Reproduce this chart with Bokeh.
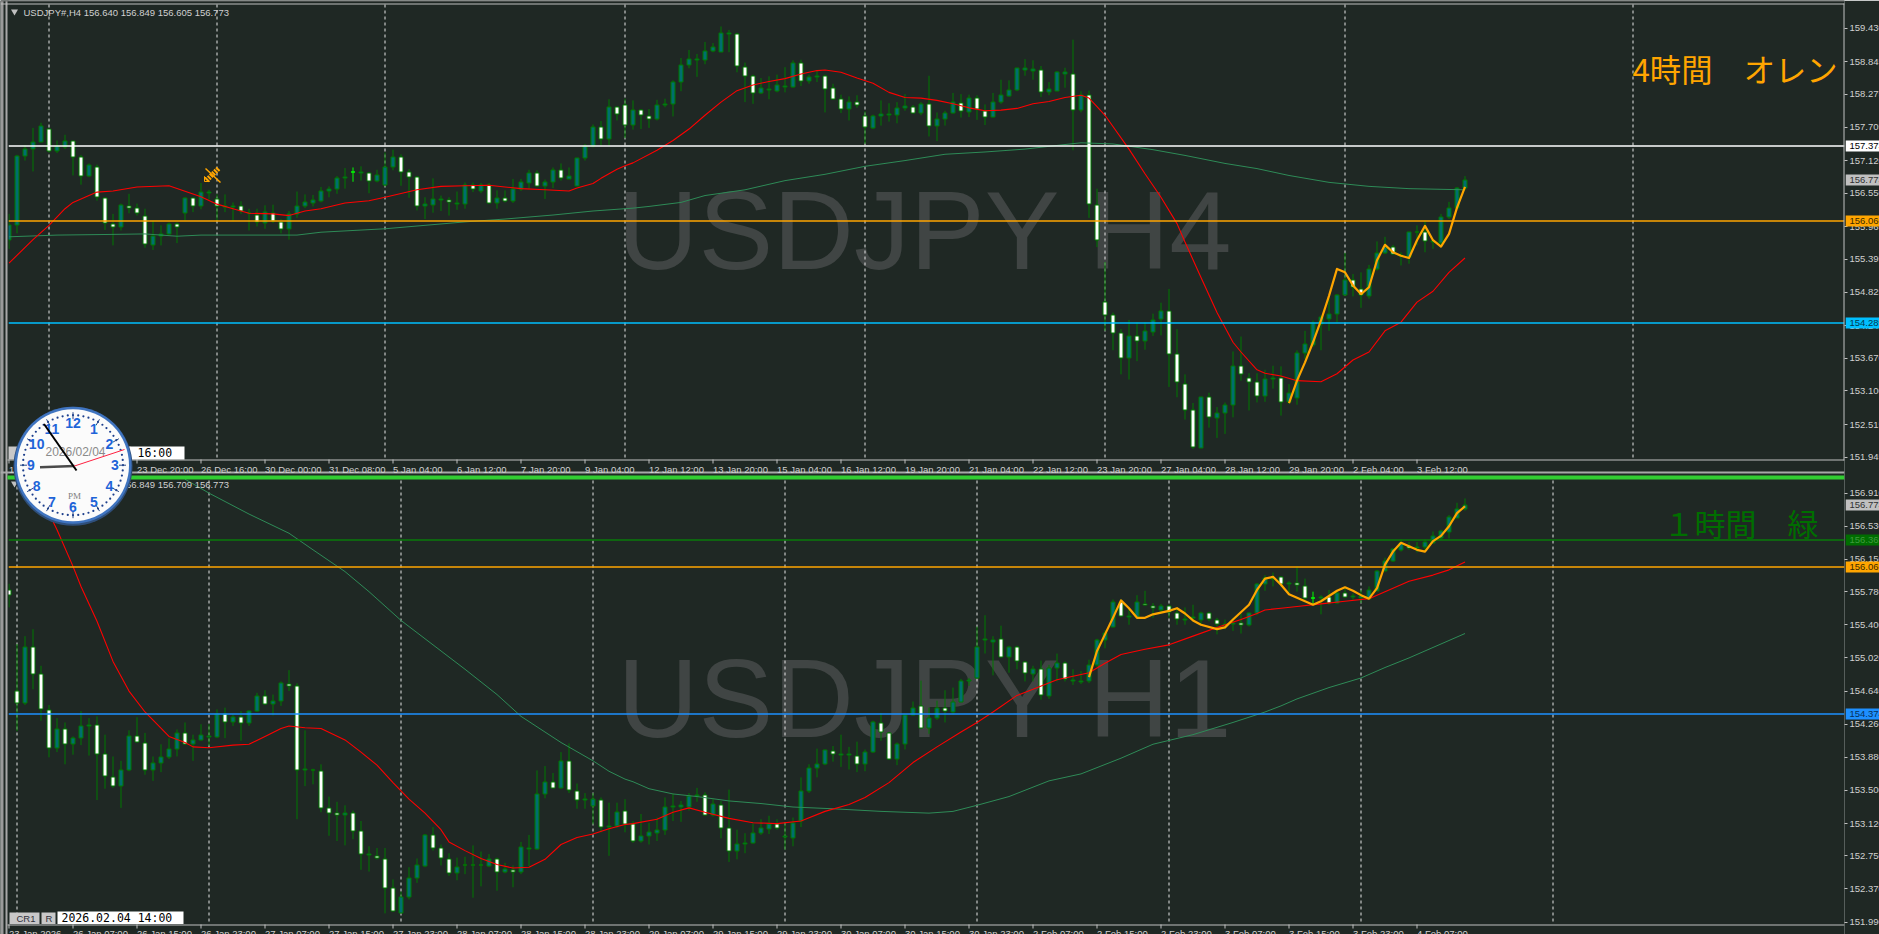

from bokeh.plotting import figure
from bokeh.models import Range1d, FixedTicker
from bokeh.embed import file_html
from bokeh.resources import INLINE
from bokeh.core.properties import value
import math

# ---------- H4 panel data ----------
top_open = [155.74,155.99,157.20,157.32,157.44,157.67,157.28,157.36,157.46,157.18,
156.85,157.00,156.46,156.01,155.96,156.33,156.29,156.15,155.65,155.81,
155.84,156.01,156.20,156.46,156.33,156.56,156.45,156.31,156.31,156.33,
156.21,156.17,156.03,156.21,156.04,155.92,156.19,156.32,156.38,156.42,
156.59,156.62,156.82,156.92,156.90,156.90,156.76,156.69,157.00,157.18,
156.92,156.83,156.33,156.34,156.44,156.43,156.37,156.36,156.69,156.59,
156.70,156.38,156.46,156.41,156.62,156.73,156.90,156.67,156.74,156.95,
156.80,156.68,157.16,157.37,157.70,157.49,158.05,158.09,157.74,158.00,
157.89,157.84,158.09,158.11,158.49,158.78,158.88,158.88,159.03,159.01,
159.33,159.33,158.75,158.59,158.30,158.35,158.34,158.40,158.40,158.82,
158.50,158.58,158.59,158.38,158.19,158.02,158.14,157.89,157.69,157.90,
157.92,157.91,158.04,158.06,157.95,158.10,157.73,157.84,157.95,158.12,
157.96,158.21,157.98,157.88,158.14,158.24,158.35,158.70,158.69,158.70,
158.31,158.34,158.63,158.63,158.00,158.26,156.35,154.65,154.42,154.11,
153.67,154.06,153.97,154.13,154.35,154.49,153.74,153.23,152.76,152.11,
152.99,152.62,152.71,152.85,153.53,153.32,153.25,153.01,153.31,153.32,
152.90,152.98,153.76,153.91,154.27,154.35,154.44,154.78,155.04,154.88,
154.76,155.22,155.51,155.62,155.45,155.43,155.87,155.88,155.70,155.68,
156.13,156.29,156.64]
top_high = [156.19,157.22,157.39,157.69,157.78,157.67,157.47,157.57,157.46,157.22,
157.07,157.05,156.48,156.19,156.37,156.54,156.37,156.28,156.07,155.99,
156.04,156.04,156.48,156.48,156.73,156.61,156.53,156.53,156.39,156.41,
156.28,156.28,156.34,156.35,156.10,156.24,156.58,156.53,156.52,156.66,
156.67,156.85,156.99,157.00,157.02,156.92,156.96,157.26,157.31,157.23,
156.97,156.85,156.48,156.81,156.51,156.48,156.58,156.74,156.74,156.73,
156.73,156.60,156.60,156.80,156.80,156.96,156.95,156.79,157.00,157.07,
157.00,157.17,157.41,157.75,157.81,158.19,158.06,158.20,158.17,158.02,
158.02,158.18,158.20,158.52,158.91,159.05,158.98,159.19,159.17,159.46,
159.40,159.35,158.83,158.62,158.56,158.59,158.62,158.75,158.87,158.88,
158.62,158.70,158.62,158.46,158.27,158.24,158.26,157.98,157.92,158.17,
158.12,158.14,158.28,158.09,158.14,158.60,157.96,157.99,158.30,158.28,
158.27,158.26,158.10,158.30,158.53,158.52,158.74,158.89,158.87,158.77,
158.49,158.68,158.74,159.23,158.33,158.34,156.63,155.35,154.47,154.18,
154.34,154.30,154.30,154.45,154.64,154.88,154.18,153.39,152.89,153.00,
153.07,152.82,152.90,153.79,154.05,153.41,153.41,153.47,153.54,153.53,
153.22,153.81,154.15,154.33,154.42,154.71,154.79,155.51,155.14,155.17,
155.30,155.71,155.79,155.65,155.52,155.88,155.99,156.07,155.75,156.19,
156.40,156.66,156.849]
top_low = [155.58,155.85,157.12,156.93,157.44,157.26,157.25,157.32,156.86,156.70,
156.83,156.42,155.91,155.64,155.90,156.20,156.16,155.60,155.56,155.64,
155.81,155.68,156.07,156.22,156.27,156.44,156.06,156.22,156.06,156.19,
155.90,155.97,155.93,156.03,155.85,155.74,156.12,156.29,156.32,156.39,
156.48,156.54,156.63,156.75,156.77,156.55,156.74,156.67,156.95,156.68,
156.47,156.25,156.10,156.21,156.24,156.16,156.26,156.28,156.57,156.55,
156.36,156.28,156.39,156.38,156.59,156.63,156.66,156.45,156.64,156.77,
156.80,156.67,157.12,157.35,157.38,157.38,157.82,157.51,157.66,157.67,
157.69,157.82,158.05,157.89,158.33,158.73,158.58,158.80,159.01,159.01,
159.01,158.66,158.14,158.11,158.28,158.19,158.31,158.31,158.39,158.42,
158.46,158.49,157.96,158.18,157.95,157.82,158.04,157.41,157.67,157.73,
157.80,157.77,157.99,157.94,157.91,157.54,157.46,157.73,157.94,157.87,
157.88,157.83,157.74,157.87,158.11,158.23,158.33,158.60,158.53,158.23,
158.26,158.33,158.39,157.30,157.96,156.12,155.61,154.15,153.81,153.39,
153.30,153.62,153.82,154.06,154.07,153.17,152.99,152.60,152.09,152.11,
152.46,152.28,152.35,152.64,153.28,152.76,152.90,152.91,153.14,152.67,
152.87,152.86,153.66,153.87,153.81,154.15,154.30,154.76,154.75,154.55,
154.71,155.20,155.49,155.48,155.29,155.32,155.64,155.52,155.58,155.64,
156.10,156.28,156.605]
top_close = [156.00,157.20,157.32,157.45,157.73,157.29,157.37,157.46,157.19,156.85,
157.05,156.48,156.03,155.96,156.35,156.30,156.21,155.66,155.81,155.84,
156.01,155.96,156.47,156.33,156.58,156.58,156.32,156.33,156.33,156.24,
156.20,156.04,156.22,156.06,155.93,156.19,156.33,156.39,156.43,156.59,
156.63,156.82,156.84,156.92,156.92,156.77,156.87,157.01,157.19,156.92,
156.84,156.33,156.36,156.45,156.45,156.39,156.38,156.69,156.63,156.70,
156.38,156.47,156.42,156.63,156.75,156.90,156.68,156.75,156.96,156.82,
156.85,157.16,157.37,157.71,157.50,158.06,157.94,157.74,158.01,157.91,
157.85,158.09,158.11,158.49,158.79,158.89,158.89,159.03,159.10,159.35,
159.35,158.77,158.60,158.30,158.39,158.37,158.44,158.42,158.82,158.51,
158.58,158.60,158.37,158.20,158.02,158.14,158.09,157.70,157.89,157.94,
157.94,158.04,158.07,157.95,158.11,157.73,157.85,157.95,158.14,157.98,
158.21,158.02,157.88,158.14,158.27,158.35,158.73,158.73,158.71,158.32,
158.37,158.66,158.66,158.01,158.26,156.37,155.74,154.43,154.12,153.68,
154.06,153.97,154.15,154.34,154.50,153.75,153.26,152.77,152.13,152.99,
152.64,152.72,152.86,153.53,153.40,153.26,153.02,153.31,153.32,152.91,
153.06,153.76,153.92,154.28,154.39,154.45,154.78,155.04,154.91,154.78,
155.23,155.51,155.62,155.49,155.48,155.88,155.88,155.72,155.72,156.14,
156.30,156.64,156.773]
top_doji = [43]

top_red_bars = [0,3,5,7,8,11,13,16,20,24,26,28,30,33,35,37,39,42,45,47,51,54,57,60,62,64,67,70,71,73,74,76,77,78,81,83,85,87,89,91,93,95,97,99,101,102,104,106,108,110,112,114,116,118,120,122,124,126,128,130,132,134,135,136,137,140,142,144,146,147,149,151,153,154,156,157,159,161,164,166,168,170,172,174,176,178,180,182]
top_red_vals = [155.33,155.74,155.99,156.28,156.39,156.57,156.59,156.66,156.68,156.49,156.36,156.28,156.20,156.19,156.16,156.24,156.28,156.38,156.42,156.48,156.61,156.67,156.68,156.69,156.66,156.63,156.61,156.59,156.64,156.72,156.81,156.97,157.03,157.08,157.30,157.47,157.67,157.91,158.14,158.34,158.44,158.50,158.55,158.63,158.69,158.70,158.66,158.56,158.47,158.31,158.22,158.21,158.17,158.11,158.04,157.99,158.00,158.03,158.11,158.15,158.22,158.26,158.21,158.06,157.91,157.32,156.89,156.48,156.02,155.70,155.08,154.47,153.95,153.78,153.47,153.41,153.36,153.28,153.26,153.40,153.64,153.78,154.15,154.30,154.65,154.84,155.17,155.42]
top_green_bars = [0,6,12,17,21,24,36,39,47,52,57,62,68,73,78,80,84,87,92,97,102,107,112,117,122,127,132,134,138,143,147,152,156,160,165,170,175,182]
top_green_vals = [155.79,155.82,155.83,155.84,155.80,155.82,155.82,155.87,155.93,155.99,156.05,156.10,156.17,156.24,156.29,156.32,156.39,156.51,156.61,156.77,156.88,157.02,157.12,157.23,157.27,157.32,157.40,157.43,157.41,157.31,157.21,157.07,156.98,156.86,156.74,156.67,156.63,156.61]
top_orange_bars = [160,161,162,163,164,165,166,167,168,169,170,171,172,173,174,175,176,177,178,179,180,181,182]
top_orange_vals = [152.89,153.28,153.60,153.95,154.33,154.76,155.23,155.17,154.94,154.79,154.91,155.38,155.65,155.52,155.46,155.42,155.73,155.98,155.73,155.62,155.84,156.30,156.66]

top_ticks = [159.430,158.845,158.275,157.705,157.120,156.550,155.965,155.395,154.825,154.240,153.670,153.100,152.515,151.945]
top_x_bars = list(range(0,177,8))
top_x_labels = ["19 Dec 2025","22 Dec 12:00","23 Dec 20:00","26 Dec 16:00","30 Dec 00:00","31 Dec 08:00","5 Jan 04:00","6 Jan 12:00","7 Jan 20:00","9 Jan 04:00","12 Jan 12:00","13 Jan 20:00","15 Jan 04:00","16 Jan 12:00","19 Jan 20:00","21 Jan 04:00","22 Jan 12:00","23 Jan 20:00","27 Jan 04:00","28 Jan 12:00","29 Jan 20:00","2 Feb 04:00","3 Feb 12:00"]
top_seps = [5,26,47,77,107,137,167,203]
top_levels = [157.373,156.060,154.289]
top_level_colors = ["#ffffff","#ffa500","#00bfff"]

# ---------- H1 panel data ----------
bot_open = [155.80,154.64,154.50,155.15,154.83,154.42,153.99,154.20,154.03,154.10,
154.24,154.25,153.92,153.66,153.55,153.73,154.12,154.05,153.73,153.82,
153.88,153.97,154.16,154.03,154.08,154.11,154.11,154.38,154.28,154.34,
154.27,154.41,154.58,154.49,154.53,154.72,154.70,153.74,153.73,153.72,
153.30,153.24,153.22,153.24,153.03,152.76,152.75,152.71,152.38,152.10,
152.28,152.50,152.63,152.99,152.84,152.71,152.55,152.64,152.64,152.64,
152.63,152.71,152.56,152.59,152.57,152.83,152.83,153.46,153.60,153.53,
153.84,153.49,153.39,153.32,153.39,153.08,153.09,153.26,153.12,152.92,
152.98,153.01,153.05,153.31,153.31,153.31,153.44,153.45,153.22,153.33,
153.07,152.80,152.89,152.90,153.01,153.06,153.11,152.97,152.95,153.15,
153.49,153.76,153.80,153.95,153.91,153.91,153.90,153.80,153.94,154.27,
154.16,153.86,154.03,154.37,154.47,154.22,154.33,154.44,154.40,154.52,
154.75,154.79,155.23,155.20,155.24,155.03,155.14,154.97,154.83,154.89,
154.58,154.91,154.96,154.75,154.74,154.75,154.94,155.23,155.38,155.66,
155.49,155.49,155.64,155.61,155.57,155.61,155.53,155.46,155.48,155.46,
155.53,155.46,155.40,155.41,155.42,155.40,155.53,155.87,155.93,155.95,
155.87,155.88,155.85,155.71,155.71,155.72,155.65,155.76,155.72,155.71,
155.70,155.79,156.02,156.13,156.26,156.30,156.28,156.29,156.34,156.39,
156.46,156.63,156.73]
bot_high = [155.87,155.18,155.27,155.35,154.93,154.48,154.33,154.28,154.12,154.41,
154.33,154.35,154.14,153.89,153.84,154.19,154.34,154.16,153.89,154.03,
154.10,154.20,154.28,154.14,154.26,154.26,154.43,154.45,154.37,154.41,
154.42,154.62,154.65,154.60,154.75,154.88,154.73,154.19,153.75,153.80,
153.43,153.37,153.33,153.27,153.15,152.86,152.84,152.84,152.48,152.34,
152.62,152.72,153.00,153.08,152.88,152.78,152.73,152.74,152.87,152.80,
152.77,152.73,152.67,152.64,152.91,152.99,153.73,153.78,153.70,153.94,
154.04,153.58,153.47,153.47,153.42,153.36,153.36,153.40,153.15,153.23,
153.13,153.19,153.42,153.46,153.38,153.47,153.53,153.48,153.40,153.38,
153.51,153.05,153.01,153.12,153.17,153.21,153.17,153.13,153.19,153.65,
153.80,153.98,153.97,154.01,154.14,154.00,154.06,153.97,154.30,154.39,
154.17,154.05,154.37,154.52,154.76,154.45,154.53,154.65,154.68,154.78,
154.79,155.38,155.51,155.27,155.39,155.16,155.16,154.98,154.93,154.99,
154.94,155.07,154.98,154.89,154.87,155.00,155.24,155.34,155.69,155.69,
155.59,155.74,155.79,155.65,155.64,155.63,155.59,155.60,155.63,155.55,
155.55,155.48,155.46,155.48,155.53,155.54,155.88,155.97,156.00,155.96,
155.90,156.07,155.93,155.78,155.74,155.80,155.80,155.82,155.76,155.80,
155.84,156.03,156.17,156.28,156.38,156.35,156.35,156.38,156.47,156.49,
156.66,156.80,156.849]
bot_low = [155.60,154.18,154.48,154.66,154.30,153.88,153.94,153.80,153.91,154.02,
153.90,153.39,153.52,153.53,153.30,153.72,154.05,153.68,153.61,153.71,
153.86,153.89,154.02,153.84,154.07,154.01,154.10,154.10,154.24,154.07,
154.24,154.40,154.48,154.36,154.47,154.64,153.17,153.55,153.57,153.25,
152.98,152.92,152.87,152.94,152.59,152.57,152.71,152.09,152.11,152.09,
152.25,152.44,152.62,152.81,152.64,152.52,152.47,152.54,152.27,152.40,
152.62,152.35,152.55,152.39,152.54,152.63,152.82,153.41,153.53,153.52,
153.47,153.29,153.29,153.11,153.02,152.75,153.07,153.02,152.90,152.90,
152.88,152.92,152.99,153.15,153.14,153.27,153.37,153.21,153.20,152.95,
152.68,152.71,152.78,152.89,152.99,153.00,153.05,152.82,152.86,153.08,
153.47,153.65,153.79,153.83,153.77,153.74,153.71,153.72,153.93,154.07,
153.85,153.79,153.97,154.36,154.21,154.15,154.31,154.28,154.37,154.52,
154.70,154.78,155.07,154.82,155.02,154.85,154.89,154.75,154.75,154.54,
154.55,154.75,154.75,154.71,154.72,154.73,154.91,155.13,155.37,155.49,
155.40,155.48,155.62,155.48,155.55,155.48,155.40,155.40,155.44,155.40,
155.44,155.29,155.35,155.33,155.30,155.38,155.51,155.79,155.84,155.84,
155.77,155.78,155.69,155.63,155.52,155.63,155.64,155.71,155.69,155.65,
155.69,155.79,156.01,156.12,156.24,156.26,156.23,156.24,156.33,156.37,
156.39,156.63,156.709]
bot_close = [155.74,154.50,155.15,154.84,154.43,153.99,154.20,154.03,154.10,154.24,
154.25,153.92,153.67,153.55,153.73,154.13,154.06,153.74,153.82,153.88,
153.97,154.16,154.03,154.08,154.14,154.12,154.38,154.29,154.34,154.27,
154.41,154.58,154.49,154.53,154.73,154.70,153.74,153.75,153.74,153.30,
153.24,153.22,153.24,153.04,152.77,152.77,152.72,152.38,152.12,152.28,
152.50,152.64,152.99,152.84,152.72,152.55,152.62,152.65,152.65,152.65,
152.71,152.57,152.60,152.57,152.85,152.84,153.46,153.60,153.53,153.84,
153.50,153.39,153.40,153.40,153.08,153.09,153.25,153.12,152.92,152.98,
153.02,153.05,153.31,153.32,153.33,153.44,153.45,153.22,153.34,153.07,
152.81,152.89,152.90,153.01,153.07,153.12,153.07,152.98,153.13,153.49,
153.76,153.80,153.96,153.92,153.92,153.92,153.80,153.94,154.28,154.17,
153.86,154.03,154.37,154.45,154.22,154.33,154.45,154.41,154.52,154.76,
154.77,155.14,155.24,155.22,155.03,155.14,154.98,154.85,154.89,154.60,
154.91,154.96,154.78,154.77,154.75,154.94,155.23,155.31,155.66,155.50,
155.50,155.66,155.63,155.59,155.61,155.55,155.47,155.47,155.49,155.54,
155.47,155.41,155.41,155.42,155.40,155.53,155.87,155.94,155.94,155.87,
155.88,155.86,155.71,155.71,155.72,155.65,155.77,155.72,155.73,155.73,
155.80,156.02,156.13,156.27,156.34,156.28,156.29,156.35,156.42,156.47,
156.64,156.73,156.773]
bot_doji = [163]

bot_red_bars = [5,6,8,9,11,13,15,17,20,22,23,25,28,30,32,34,35,37,39,42,44,46,48,50,52,54,55,57,59,61,63,65,67,69,71,73,75,77,78,81,83,85,87,90,93,96,99,102,105,107,110,113,116,119,121,123,126,128,131,135,137,139,142,145,148,151,154,156,157,159,161,164,167,170,172,175,178,180,182]
bot_red_vals = [156.68,156.49,156.07,155.84,155.44,154.98,154.64,154.40,154.12,154.05,154.00,153.99,154.02,154.03,154.12,154.21,154.24,154.22,154.21,154.08,153.94,153.79,153.59,153.40,153.24,153.05,152.91,152.81,152.72,152.65,152.61,152.62,152.71,152.88,152.96,153.00,153.06,153.11,153.12,153.17,153.25,153.30,153.25,153.18,153.13,153.12,153.15,153.26,153.34,153.42,153.59,153.82,154.00,154.17,154.28,154.40,154.59,154.66,154.77,154.85,154.96,155.06,155.12,155.17,155.27,155.37,155.46,155.53,155.57,155.59,155.61,155.64,155.67,155.70,155.78,155.90,155.97,156.03,156.12]
bot_green_bars = [22,25,30,35,38,42,45,49,52,57,61,64,69,73,75,77,78,80,83,86,90,94,98,103,109,115,118,121,125,130,134,139,143,148,153,156,157,159,161,165,169,172,175,178,181,182]
bot_green_vals = [157.07,156.91,156.67,156.45,156.26,156.01,155.78,155.45,155.24,154.89,154.60,154.35,154.05,153.84,153.72,153.63,153.60,153.52,153.46,153.43,153.38,153.35,153.31,153.29,153.26,153.24,153.26,153.33,153.43,153.61,153.69,153.87,154.03,154.14,154.28,154.37,154.40,154.47,154.55,154.68,154.79,154.91,155.02,155.14,155.26,155.30]
bot_orange_bars = [135,136,137,138,139,140,141,142,143,144,145,146,147,148,149,151,152,153,155,156,157,158,159,160,161,163,164,166,167,168,169,170,171,172,173,174,175,176,177,178,179,180,181,182]
bot_orange_vals = [154.80,155.10,155.29,155.48,155.68,155.59,155.48,155.48,155.52,155.54,155.56,155.59,155.53,155.45,155.40,155.35,155.37,155.46,155.63,155.80,155.93,155.95,155.86,155.75,155.71,155.63,155.67,155.79,155.83,155.79,155.74,155.70,155.82,156.09,156.24,156.34,156.30,156.26,156.24,156.36,156.42,156.53,156.68,156.76]

bot_ticks = [156.910,156.530,156.150,155.780,155.400,155.020,154.640,154.260,153.880,153.500,153.120,152.750,152.370,151.990]
bot_x_bars = list(range(0,177,8))
bot_x_labels = ["23 Jan 2026","26 Jan 07:00","26 Jan 15:00","26 Jan 23:00","27 Jan 07:00","27 Jan 15:00","27 Jan 23:00","28 Jan 07:00","28 Jan 15:00","28 Jan 23:00","29 Jan 07:00","29 Jan 15:00","29 Jan 23:00","30 Jan 07:00","30 Jan 15:00","30 Jan 23:00","2 Feb 07:00","2 Feb 15:00","2 Feb 23:00","3 Feb 07:00","3 Feb 15:00","3 Feb 23:00","4 Feb 07:00"]
bot_seps = [1,25,49,73,97,121,145,169,193]
bot_levels = [156.369,156.060,154.374]
bot_level_colors = ["#0a7a0a","#ffa500","#1e90ff"]

# price tags: value text, fill, ink
top_tags = [(157.373,"157.373","#ffffff","#000000"),(156.773,"156.773","#c0c0c0","#303030"),
            (156.060,"156.060","#ffa500","#3a2a00"),(154.289,"154.289","#00bfff","#003a50")]
bot_tags = [(156.773,"156.773","#c0c0c0","#303030"),(156.369,"156.369","#006e00","#3f9a3f"),
            (156.060,"156.060","#ffa500","#3a2a00"),(154.374,"154.374","#1e90ff","#05305a")]

# ---------- page geometry and palette ----------
W, H, PW = 1879, 934, 1844
XL, XR = -1.0625, 229.4375
TOP_HI, TOP_LO = 159.9128, 143.617
BOT_HI, BOT_LO = 162.560, 151.848
BG = "#1f2824"
GRAY = "#c0c0c0"
INK = "#d0d0d0"
WICK = "#007800"
BULL = "#006f6f"
LIME = "#00ff00"
FONT = value("Liberation Sans")

def X(px):
    return XL + px * (XR - XL) / PW
def Y(py):
    return TOP_HI - py * (TOP_HI - TOP_LO) / H
def to_top(price):
    return round(TOP_LO + (price - BOT_LO) * (TOP_HI - TOP_LO) / (BOT_HI - BOT_LO), 6)
def snap(price, hi, lo):
    # keep a thin horizontal edge on one row of screen pixels
    py = (hi - price) * H / (hi - lo)
    return hi - (math.floor(py) + 0.5) * (hi - lo) / H

p = figure(width=W, height=H, frame_width=PW, frame_height=H,
           x_range=Range1d(XL, XR), y_range=Range1d(TOP_LO, TOP_HI),
           x_axis_location=None, y_axis_location="right",
           toolbar_location=None, output_backend="svg",
           min_border=0, min_border_left=0, min_border_right=0, min_border_top=0, min_border_bottom=0,
           background_fill_color=BG, border_fill_color=BG, outline_line_color=None)
p.extra_y_ranges = {"h1": Range1d(BOT_LO, BOT_HI)}
p.grid.visible = False
p.styles = {"position": "absolute", "left": "0px", "top": "0px"}

# a single price axis carries both panels' labels
ticks = {}
for t in top_ticks:
    ticks[round(t, 6)] = f"{t:.3f}"
for t in bot_ticks:
    ticks[to_top(t)] = f"{t:.3f}"
ax = p.yaxis[0]
ax.ticker = FixedTicker(ticks=list(ticks.keys()))
ax.major_label_overrides = ticks
ax.axis_line_color = None
ax.major_tick_line_color = GRAY
ax.major_tick_out = 3
ax.major_tick_in = 0
ax.minor_tick_line_color = None
ax.major_label_standoff = 2
ax.major_label_text_color = INK
ax.major_label_text_font = "Liberation Sans"
ax.major_label_text_font_size = "9.5px"

# watermarks
p.text([X(617)], [Y(229.5)], text=["USDJPY H4"], text_color="#404544", text_font=FONT,
       text_font_size="112px", text_baseline="alphabetic")
p.text([X(617)], [Y(698)], text=["USDJPY H1"], text_color="#404544", text_font=FONT,
       text_font_size="112px", text_baseline="alphabetic")

# period separators
sep_kw = dict(line_color="#e6e6e6", line_width=1, line_dash="3 3")
p.segment(top_seps, [Y(4)] * len(top_seps), top_seps, [Y(459)] * len(top_seps), **sep_kw)
p.segment(bot_seps, [Y(480)] * len(bot_seps), bot_seps, [Y(924)] * len(bot_seps), **sep_kw)

def candles(o, h, l, c, doji, rng, hi, lo):
    n = len(o)
    xs = list(range(n))
    wick = [LIME if i in doji else WICK for i in xs]
    fill = [BULL if c[i] > o[i] else "#ffffff" for i in xs]
    kw = {} if rng is None else {"y_range_name": rng}
    p.segment(xs, h, xs, l, line_color=wick, line_width=1, **kw)
    p.vbar(xs, width=0.5, bottom=[snap(min(a, b), hi, lo) for a, b in zip(o, c)],
           top=[snap(max(a, b), hi, lo) for a, b in zip(o, c)], fill_color=fill, line_color=wick, line_width=1, **kw)

candles(top_open, top_high, top_low, top_close, top_doji, None, TOP_HI, TOP_LO)
candles(bot_open, bot_high, bot_low, bot_close, bot_doji, "h1", BOT_HI, BOT_LO)

# moving averages
p.line(top_green_bars, top_green_vals, line_color="#2e8b57", line_width=1)
p.line(top_red_bars, top_red_vals, line_color="#ff0000", line_width=1.1)
p.line(bot_green_bars, bot_green_vals, line_color="#2e8b57", line_width=1, y_range_name="h1")
p.line(bot_red_bars, bot_red_vals, line_color="#ff0000", line_width=1.1, y_range_name="h1")

# horizontal levels
top_lv = [snap(v, TOP_HI, TOP_LO) for v in top_levels]
bot_lv = [snap(v, BOT_HI, BOT_LO) for v in bot_levels]
p.segment([X(8)] * 3, top_lv, [X(1844)] * 3, top_lv, line_color=top_level_colors, line_width=1.5)
p.segment([X(8)] * 3, bot_lv, [X(1844)] * 3, bot_lv, line_color=bot_level_colors, line_width=1.5, y_range_name="h1")

# zigzag overlays
p.line(top_orange_bars, top_orange_vals, line_color="#ffa500", line_width=2.2, line_join="round")
p.line(bot_orange_bars, bot_orange_vals, line_color="#ffa500", line_width=2.2, line_join="round", y_range_name="h1")

# notes
p.text([X(1632)], [Y(68)], text=["4時間　オレン"], text_color="#ffa500", text_font=value("Noto Sans CJK JP"),
       text_font_size="31.3px", text_baseline="middle")
p.text([X(1663)], [Y(522)], text=["１時間　緑"], text_color="#006e00", text_font=value("Noto Sans CJK JP"),
       text_font_size="31px", text_baseline="middle")

# arrow marker (pencil) on the H4 chart
p.segment([X(206)], [Y(180)], [X(218)], [Y(168)], line_color="#ffa500", line_width=5, line_dash="2 1")
p.segment([X(205)], [Y(168)], [X(220)], [Y(182)], line_color="#ffa500", line_width=1.5)
p.line([X(204), X(204), X(209), X(204)], [Y(176), Y(181), Y(181), Y(176)], line_color="#ffa500", line_width=1)

# window chrome drawn from page pixels
def band(x0, x1, y0, y1, color):
    p.quad(left=[X(x0)], right=[X(x1)], bottom=[Y(y1)], top=[Y(y0)], fill_color=color, line_color=None)

band(0, 8, 0, H, BG)
band(0, 3, 0, H, "#9a9a9a")
band(5, 7, 0, H, "#a8a8a8")
band(0, PW, 0, 1, "#6a6a6a")
band(0, PW, 3, 4, GRAY)
band(7, PW, 459, 460, GRAY)
band(1843, 1844, 3, 460, GRAY)
band(0, PW, 471, 473, "#a8a8a8")
band(7, PW, 475, 479, "#32cd32")
band(7, PW, 924, 925, GRAY)

# x tick marks and labels
for bars, labels, y0, y1, yt in ((top_x_bars, top_x_labels, 459, 463, 468.5), (bot_x_bars, bot_x_labels, 924, 928, 932.5)):
    p.segment(bars, [Y(y0)] * len(bars), bars, [Y(y1)] * len(bars), line_color=GRAY, line_width=1)
    p.text(bars, [Y(yt)] * len(bars), text=labels, text_color=INK, text_font=FONT, text_font_size="9.5px",
           text_align="left", text_baseline="middle")

# headers
p.scatter([X(14), X(14)], [Y(11), Y(483)], marker="inverted_triangle", size=7, fill_color=GRAY, line_color=None)
p.text([X(23)], [Y(11.5)], text=["USDJPY#,H4  156.640 156.849 156.605 156.773"], text_color=INK, text_font=FONT,
       text_font_size="9.5px", text_baseline="middle")
p.text([X(23)], [Y(483.5)], text=["USDJPY#,H1  156.731 156.849 156.709 156.773"], text_color=INK, text_font=FONT,
       text_font_size="9.5px", text_baseline="middle")

# terminal boxes
MONO = value("DejaVu Sans Mono")
band(8, 130, 446, 459, "#c8c8c8")
band(129, 184, 446, 459, "#ffffff")
p.text([X(137)], [Y(452.5)], text=["16:00"], text_color="#000000", text_font=MONO, text_font_size="11.5px", text_baseline="middle")
band(9, 39, 912, 923.5, "#c8c8c8")
band(41, 55, 912, 923.5, "#c8c8c8")
band(57, 183, 911, 923.5, "#ffffff")
p.text([X(16)], [Y(917.5)], text=["CR1"], text_color="#30303a", text_font=FONT, text_font_size="9.5px", text_baseline="middle")
p.text([X(45)], [Y(917.5)], text=["R"], text_color="#30303a", text_font=FONT, text_font_size="9.5px", text_baseline="middle")
p.text([X(61)], [Y(917.5)], text=["2026.02.04 14:00"], text_color="#000000", text_font=MONO, text_font_size="11.5px", text_baseline="middle")

# clock
CX, CY = 72.5, 464.7
p.scatter([X(CX)], [Y(CY + 1)], size=119, fill_color="#2f4f7a", line_color=None)
p.scatter([X(CX)], [Y(CY)], size=117, fill_color="#3f74c0", line_color=None)
p.scatter([X(CX)], [Y(CY)], size=112, fill_color="#fbfbfb", line_color=None)
mins = list(range(60))
p.scatter([X(CX + 50 * math.sin(m * math.pi / 30)) for m in mins],
          [Y(CY - 50 * math.cos(m * math.pi / 30)) for m in mins],
          size=2.2, fill_color="#1d3f8c", line_color=None)
hrs = list(range(12))
p.segment([X(CX + 46 * math.sin(h * math.pi / 6)) for h in hrs], [Y(CY - 46 * math.cos(h * math.pi / 6)) for h in hrs],
          [X(CX + 53 * math.sin(h * math.pi / 6)) for h in hrs], [Y(CY - 53 * math.cos(h * math.pi / 6)) for h in hrs],
          line_color="#2a4a8a", line_width=1)
nums = ["12", "1", "2", "3", "4", "5", "6", "7", "8", "9", "10", "11"]
p.text([X(CX + 42 * math.sin(h * math.pi / 6)) for h in hrs], [Y(CY - 42 * math.cos(h * math.pi / 6)) for h in hrs],
       text=nums, text_color="#1e64d8", text_font=FONT, text_font_style="bold", text_font_size="14px",
       text_align="center", text_baseline="middle")
p.text([X(75)], [Y(451)], text=["2026/02/04"], text_color="#8a8a8a", text_font=FONT, text_font_size="12px",
       text_align="center", text_baseline="middle")
p.text([X(74)], [Y(495.5)], text=["PM"], text_color="#808080", text_font=value("Liberation Serif"), text_font_size="9px",
       text_align="center", text_baseline="middle")
p.segment([X(39.5)], [Y(466.7)], [X(74)], [Y(465.5)], line_color="#4a4a4a", line_width=2.5)
p.segment([X(43.5)], [Y(423.5)], [X(76)], [Y(470)], line_color="#000000", line_width=2)
p.segment([X(74)], [Y(465.5)], [X(124)], [Y(449)], line_color="#ff2040", line_width=1)

# price tags sit in a transparent strip laid over the axis, on the same price scales
tags = figure(width=W - 1845, height=H, x_range=Range1d(0, W - 1845), y_range=Range1d(TOP_LO, TOP_HI),
              x_axis_location=None, y_axis_location=None, toolbar_location=None, output_backend="svg",
              min_border=0, min_border_left=0, min_border_right=0, min_border_top=0, min_border_bottom=0,
              background_fill_alpha=0, border_fill_alpha=0, outline_line_color=None)
tags.extra_y_ranges = {"h1": Range1d(BOT_LO, BOT_HI)}
tags.grid.visible = False
tags.styles = {"position": "absolute", "left": "1845px", "top": "0px"}

def tag_row(rows, hi, lo, **kw):
    half = 5.5 * (hi - lo) / H
    mids = [snap(r[0], hi, lo) for r in rows]
    tags.quad(left=[0] * len(rows), right=[W - 1845] * len(rows), bottom=[m - half for m in mids], top=[m + half for m in mids],
              fill_color=[r[2] for r in rows], line_color=None, **kw)
    tags.text([4] * len(rows), mids, text=[r[1] for r in rows], text_color=[r[3] for r in rows],
              text_font=FONT, text_font_size="9.5px", text_baseline="middle", **kw)

tag_row(top_tags, TOP_HI, TOP_LO)
tag_row(bot_tags, BOT_HI, BOT_LO, y_range_name="h1")

open("out.html", "w").write(file_html([p, tags], INLINE))
